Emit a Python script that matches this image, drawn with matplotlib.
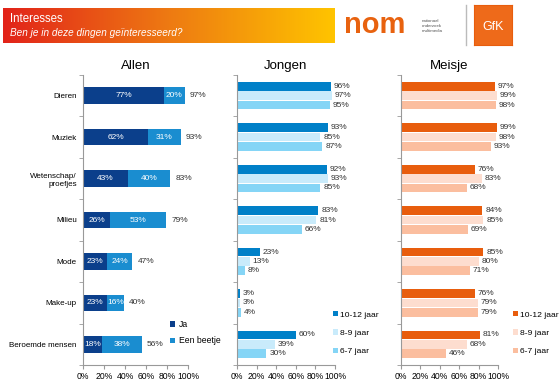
import matplotlib
matplotlib.use('Agg')
import matplotlib.pyplot as plt
from matplotlib.colors import LinearSegmentedColormap
import numpy as np

plt.rcParams['font.family'] = ['Liberation Sans', 'DejaVu Sans']

categories = ['Dieren', 'Muziek', 'Wetenschap/\nproefjes', 'Milieu', 'Mode', 'Make-up', 'Beroemde mensen']
allen_ja = [77, 62, 43, 26, 23, 23, 18]
allen_beetje = [20, 31, 40, 53, 24, 16, 38]
allen_totaal = [97, 93, 83, 79, 47, 40, 56]

jongen_10_12 = [96, 93, 92, 83, 23, 3, 60]
jongen_8_9 = [97, 85, 93, 81, 13, 3, 39]
jongen_6_7 = [95, 87, 85, 66, 8, 4, 30]

meisje_10_12 = [97, 99, 76, 84, 85, 76, 81]
meisje_8_9 = [99, 98, 83, 85, 80, 79, 68]
meisje_6_7 = [98, 93, 68, 69, 71, 79, 46]

ages = ['10-12 jaar', '8-9 jaar', '6-7 jaar']
xticks = [0, 20, 40, 60, 80, 100]

fig = plt.figure(figsize=(5.6, 3.87), dpi=100)
fig.patch.set_facecolor('white')

# header band met verloop
hdr = fig.add_axes([3/560, 1-43/387, 332/560, 35/387])
grad = np.linspace(0, 1, 256).reshape(1, -1)
cm = LinearSegmentedColormap.from_list('hdr', ['#E2231A', '#EE7A12', '#FFC400'])
hdr.imshow(grad, aspect='auto', cmap=cm, extent=[0, 1, 0, 1])
hdr.axis('off')
hdr.text(0.02, 0.68, 'Interesses', color='white', fontsize=8.3, va='center', transform=hdr.transAxes)
hdr.text(0.02, 0.28, 'Ben je in deze dingen geïnteresseerd?', color='white', fontsize=7.2,
         style='italic', va='center', transform=hdr.transAxes)

# logo's
fig.text(344/560, 1-25/387, 'nom', color='#E8620F', fontsize=21, fontweight='bold', va='center', ha='left')
fig.text(422/560, 1-26/387, 'nationaal\nonderzoek\nmultimedia', color='#555555', fontsize=3.2,
         va='center', ha='left', linespacing=1.2)
fig.add_artist(plt.Line2D([466/560, 466/560], [1-45/387, 1-5/387], color='#BBBBBB', lw=1))
gfk = fig.add_axes([474/560, 1-45/387, 38/560, 40/387])
gfk.set_facecolor('#EE6A1A')
gfk.set_xticks([]); gfk.set_yticks([])
for s in gfk.spines.values():
    s.set_color('#E85D0D')
gfk.text(0.5, 0.45, 'GfK', color='white', fontsize=9, ha='center', va='center', transform=gfk.transAxes)

y = np.arange(len(categories))


def style_axis(ax, title, show_labels):
    ax.set_xlim(0, 100)
    ax.set_ylim(6.5, -0.5)
    ax.set_xticks(xticks)
    ax.set_xticklabels([f'{t}%' for t in xticks], fontsize=6.2)
    ax.set_yticks(y)
    if show_labels:
        ax.set_yticklabels(categories, fontsize=5.8)
    else:
        ax.set_yticklabels([])
    ax.tick_params(axis='y', length=0, pad=4.5)
    ax.set_yticks(np.arange(-0.5, 7, 1), minor=True)
    ax.tick_params(axis='y', which='minor', length=3, color='#999999')
    ax.tick_params(axis='x', length=3, color='#999999', pad=2)
    for s in ['top', 'right']:
        ax.spines[s].set_visible(False)
    for s in ['left', 'bottom']:
        ax.spines[s].set_color('#999999')
    ax.set_title(title, fontsize=9.5, pad=4)


# Allen
ax1 = fig.add_axes([83/560, 1-365/387, 105/560, 290/387])
ax1.barh(y, allen_ja, height=0.4, color='#0B3F8B', label='Ja')
ax1.barh(y, allen_beetje, left=allen_ja, height=0.4, color='#1A8DD0', label='Een beetje')
for i in range(len(y)):
    ax1.text(allen_ja[i]/2, y[i], f'{allen_ja[i]}%', color='white', fontsize=6, ha='center', va='center')
    ax1.text(allen_ja[i] + allen_beetje[i]/2, y[i], f'{allen_beetje[i]}%', color='white', fontsize=6,
             ha='center', va='center')
    ax1.text(allen_ja[i] + allen_beetje[i] + 5, y[i], f'{allen_totaal[i]}%', color='#333333', fontsize=6,
             ha='left', va='center')
style_axis(ax1, 'Allen', True)
ax1.legend(loc='upper left', bbox_to_anchor=(170/560, 1-320/387), bbox_transform=fig.transFigure,
           frameon=False, fontsize=6.2, handlelength=0.6, handleheight=0.6, handletextpad=0.4,
           labelspacing=0.85, borderpad=0, borderaxespad=0)


def grouped(ax, vals, colors, title, leg_x):
    off = [-0.225, 0, 0.225]
    for k in range(3):
        ax.barh(y + off[k], vals[k], height=0.21, color=colors[k], label=ages[k])
        for i in range(len(y)):
            ax.text(vals[k][i] + 3, y[i] + off[k], f'{vals[k][i]}%', color='#333333', fontsize=6,
                    ha='left', va='center')
    style_axis(ax, title, False)
    ax.legend(loc='upper left', bbox_to_anchor=(leg_x/560, 1-311/387), bbox_transform=fig.transFigure,
              frameon=False, fontsize=6.1, handlelength=0.6, handleheight=0.6, handletextpad=0.25,
              labelspacing=1.25, borderpad=0, borderaxespad=0)


ax2 = fig.add_axes([237/560, 1-365/387, 98/560, 290/387])
grouped(ax2, [jongen_10_12, jongen_8_9, jongen_6_7], ['#0080C8', '#C9EBFB', '#85D5F6'], 'Jongen', 333)

ax3 = fig.add_axes([401/560, 1-365/387, 97/560, 290/387])
grouped(ax3, [meisje_10_12, meisje_8_9, meisje_6_7], ['#E85D0D', '#FDDDCF', '#FBBE9F'], 'Meisje', 513)

fig.savefig('out.png', dpi=100, facecolor='white')
